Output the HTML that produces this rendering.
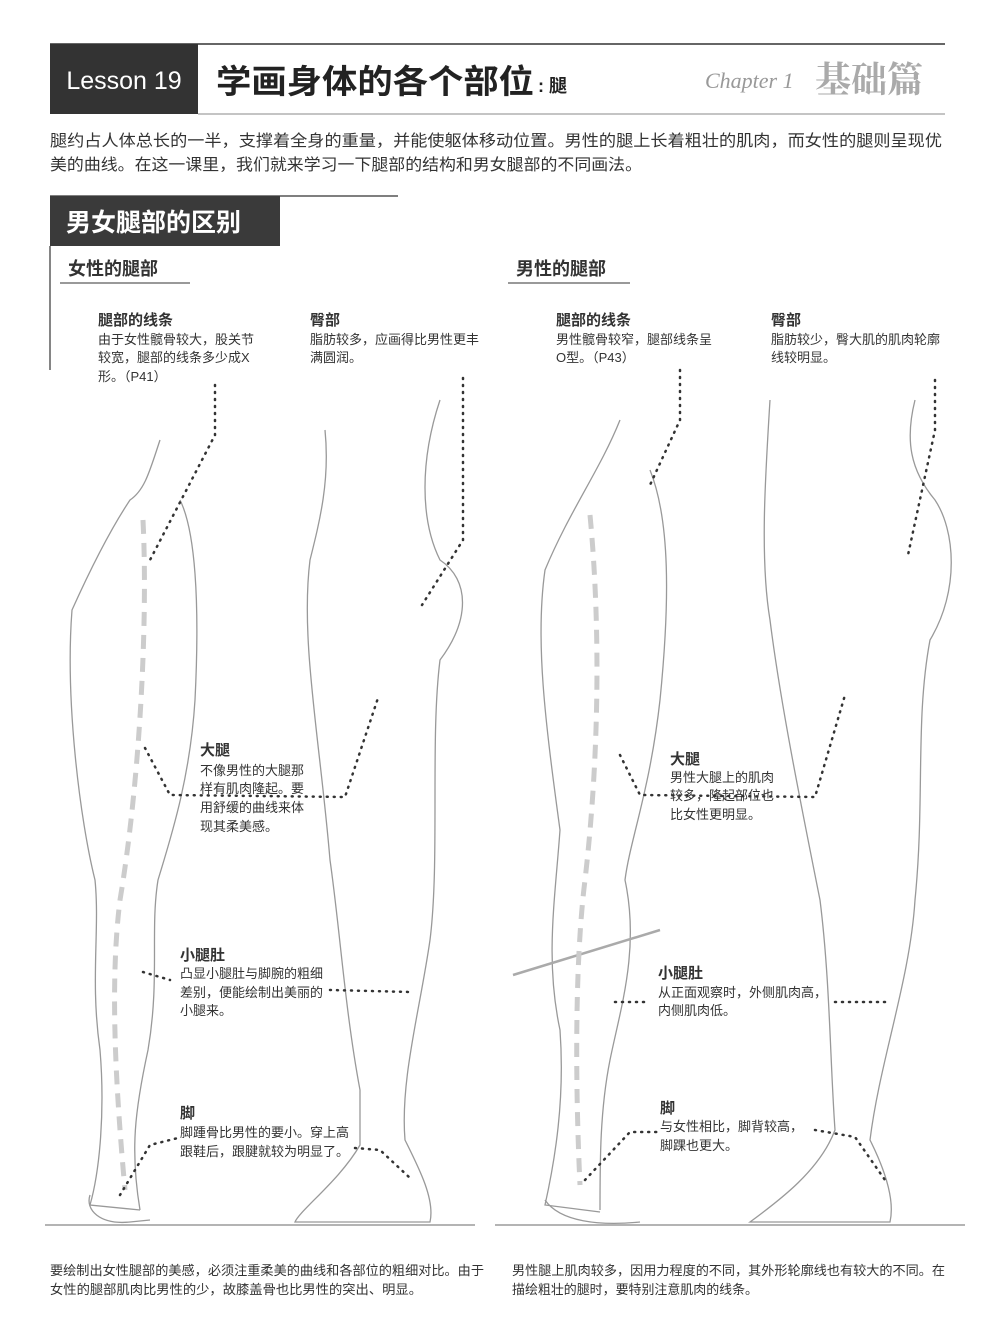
<!DOCTYPE html>
<html><head><meta charset="utf-8">
<style>
html,body{margin:0;padding:0;background:#fff;}
body{width:1000px;height:1335px;overflow:hidden;}
svg text{font-family:"Liberation Sans","Noto Sans CJK SC",sans-serif;}
</style></head><body>
<svg width="1000" height="1335" viewBox="0 0 1000 1335" xmlns="http://www.w3.org/2000/svg">
<line x1="50" y1="44" x2="945" y2="44" stroke="#333" stroke-width="1.5"/>
<line x1="198" y1="114" x2="945" y2="114" stroke="#888" stroke-width="1"/>
<rect x="50" y="44" width="148" height="70" fill="#333"/>
<text x="124" y="89" font-size="25" fill="#fff" text-anchor="middle">Lesson 19</text>
<text x="216" y="93" font-size="33" font-weight="bold" fill="#222" textLength="318" lengthAdjust="spacingAndGlyphs">学画身体的各个部位</text>
<text x="538" y="92" font-size="18" font-weight="bold" fill="#222">: 腿</text>
<text x="705" y="88" font-size="22" font-style="italic" fill="#999" style="font-family:'Liberation Serif',serif">Chapter 1</text>
<text x="815" y="92" font-size="36" font-weight="bold" fill="#aaa" style="font-family:'Liberation Serif','Noto Serif CJK SC',serif">基础篇</text>
<text x="50" y="146" font-size="16" fill="#333" textLength="892" lengthAdjust="spacingAndGlyphs">腿约占人体总长的一半，支撑着全身的重量，并能使躯体移动位置。男性的腿上长着粗壮的肌肉，而女性的腿则呈现优</text>
<text x="50" y="170" font-size="16" fill="#333" textLength="592" lengthAdjust="spacingAndGlyphs">美的曲线。在这一课里，我们就来学习一下腿部的结构和男女腿部的不同画法。</text>
<line x1="50" y1="196" x2="398" y2="196" stroke="#333" stroke-width="1.2"/>
<rect x="50" y="196" width="230" height="50" fill="#3a3a3a"/>
<text x="66" y="231" font-size="25" font-weight="bold" fill="#fff">男女腿部的区别</text>
<line x1="50" y1="246" x2="50" y2="370" stroke="#333" stroke-width="1.2"/>
<text x="68" y="275" font-size="18" font-weight="bold" fill="#333">女性的腿部</text>
<line x1="60" y1="283" x2="190" y2="283" stroke="#333" stroke-width="1"/>
<text x="516" y="275" font-size="18" font-weight="bold" fill="#333">男性的腿部</text>
<line x1="508" y1="283" x2="630" y2="283" stroke="#333" stroke-width="1"/>
<g fill="#333" font-size="13">
<text x="98" y="325" font-size="15" font-weight="bold">腿部的线条</text>
<text x="98" y="344">由于女性髋骨较大，股关节</text>
<text x="98" y="362">较宽，腿部的线条多少成X</text>
<text x="98" y="381">形。（P41）</text>
<text x="310" y="325" font-size="15" font-weight="bold">臀部</text>
<text x="310" y="344">脂肪较多，应画得比男性更丰</text>
<text x="310" y="362">满圆润。</text>
<text x="556" y="325" font-size="15" font-weight="bold">腿部的线条</text>
<text x="556" y="344">男性髋骨较窄，腿部线条呈</text>
<text x="556" y="362">O型。（P43）</text>
<text x="771" y="325" font-size="15" font-weight="bold">臀部</text>
<text x="771" y="344">脂肪较少，臀大肌的肌肉轮廓</text>
<text x="771" y="362">线较明显。</text>
<text x="200" y="755" font-size="15" font-weight="bold">大腿</text>
<text x="200" y="775">不像男性的大腿那</text>
<text x="200" y="793">样有肌肉隆起。要</text>
<text x="200" y="812">用舒缓的曲线来体</text>
<text x="200" y="831">现其柔美感。</text>
<text x="670" y="764" font-size="15" font-weight="bold">大腿</text>
<text x="670" y="782">男性大腿上的肌肉</text>
<text x="670" y="800">较多，隆起部位也</text>
<text x="670" y="819">比女性更明显。</text>
<text x="180" y="960" font-size="15" font-weight="bold">小腿肚</text>
<text x="180" y="978">凸显小腿肚与脚腕的粗细</text>
<text x="180" y="997">差别，便能绘制出美丽的</text>
<text x="180" y="1015">小腿来。</text>
<text x="658" y="978" font-size="15" font-weight="bold">小腿肚</text>
<text x="658" y="997">从正面观察时，外侧肌肉高，</text>
<text x="658" y="1015">内侧肌肉低。</text>
<text x="180" y="1118" font-size="15" font-weight="bold">脚</text>
<text x="180" y="1137">脚踵骨比男性的要小。穿上高</text>
<text x="180" y="1156">跟鞋后，跟腱就较为明显了。</text>
<text x="660" y="1113" font-size="15" font-weight="bold">脚</text>
<text x="660" y="1131">与女性相比，脚背较高，</text>
<text x="660" y="1150">脚踝也更大。</text>
<text x="50" y="1275" textLength="434" lengthAdjust="spacingAndGlyphs">要绘制出女性腿部的美感，必须注重柔美的曲线和各部位的粗细对比。由于</text>
<text x="50" y="1294" textLength="372" lengthAdjust="spacingAndGlyphs">女性的腿部肌肉比男性的少，故膝盖骨也比男性的突出、明显。</text>
<text x="512" y="1275" textLength="433" lengthAdjust="spacingAndGlyphs">男性腿上肌肉较多，因用力程度的不同，其外形轮廓线也有较大的不同。在</text>
<text x="512" y="1294" textLength="246" lengthAdjust="spacingAndGlyphs">描绘粗壮的腿时，要特别注意肌肉的线条。</text>
</g>
<g fill="none" stroke="#999" stroke-width="1.3">
<path d="M160 440 C150 470 145 490 130 500 C110 530 90 570 72 610 C65 700 80 820 95 880 C100 930 90 980 100 1050 C105 1110 100 1170 90 1205 L140 1210"/>
<path d="M180 500 C195 530 200 600 195 700 C190 780 170 840 158 880 C150 930 160 980 148 1050 C135 1110 130 1150 140 1210"/>
<path d="M90 1195 C85 1210 100 1225 130 1222 L150 1220"/>
<path d="M325 430 C330 480 320 520 310 560 C300 640 320 740 330 860 C340 930 345 1010 360 1090 L360 1145 C340 1180 300 1210 295 1222 L430 1222 C435 1200 420 1170 405 1140 C400 1080 420 1010 430 940 C440 860 430 740 440 660 C470 620 470 580 440 560 C420 520 420 460 440 400"/>
<path d="M620 420 C600 470 570 510 545 570 C535 640 545 720 560 830 C555 900 545 960 560 1030 C565 1100 555 1160 545 1205 L600 1212"/>
<path d="M650 470 C670 520 670 600 660 700 C650 790 630 840 625 880 C640 950 620 1010 610 1060 C600 1110 600 1160 600 1210"/>
<path d="M545 1200 C560 1222 600 1226 640 1222"/>
<path d="M770 400 C765 480 760 560 770 620 C780 700 800 800 820 900 C830 980 830 1060 835 1130 C820 1170 780 1200 750 1222 L890 1222 C895 1200 885 1170 870 1140 C880 1060 910 980 915 900 C925 800 915 720 930 640 C960 590 955 530 935 500 C910 470 905 440 915 400"/>
</g>
<line x1="513" y1="975" x2="660" y2="930" stroke="#aaa" stroke-width="2.5"/>
<g stroke="#888" stroke-width="1.2">
<line x1="45" y1="1225" x2="475" y2="1225"/>
<line x1="495" y1="1225" x2="965" y2="1225"/>
</g>
<path d="M143 520 C148 620 140 780 120 900 C110 980 115 1080 125 1190" stroke="#ccc" stroke-width="5" stroke-dasharray="14 9" fill="none"/>
<path d="M590 515 C600 620 600 750 585 880 C575 960 575 1080 580 1185" stroke="#ccc" stroke-width="5" stroke-dasharray="14 9" fill="none"/>
<g stroke="#333" stroke-width="2.5" stroke-dasharray="1 6" stroke-linecap="round" fill="none">
<path d="M215 385 L215 435 L150 560"/>
<path d="M463 378 L463 540 L422 605"/>
<path d="M680 370 L680 420 L650 485"/>
<path d="M935 380 L935 430 L908 555"/>
<path d="M145 748 L170 795 L345 797 L378 698"/>
<path d="M620 755 L640 795 L815 797 L845 695"/>
<path d="M143 972 L170 980"/>
<path d="M330 990 L410 992"/>
<path d="M615 1002 L650 1002"/>
<path d="M835 1002 L890 1002"/>
<path d="M120 1195 L150 1145 L178 1138"/>
<path d="M355 1148 L380 1150 L410 1178"/>
<path d="M585 1180 L630 1132 L660 1132"/>
<path d="M815 1130 L855 1137 L885 1180"/>
</g>
</svg>
</body></html>
